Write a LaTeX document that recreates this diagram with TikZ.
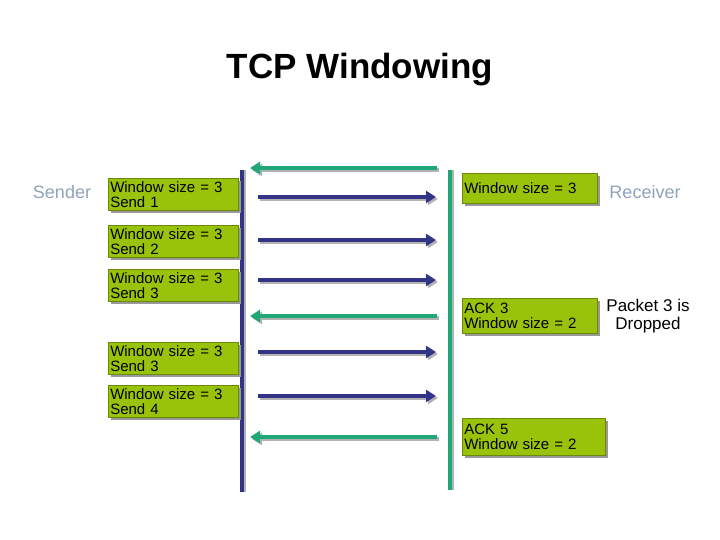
\documentclass[tikz,border=0pt]{standalone}
\usepackage{fontspec}
\setmainfont{Liberation Sans}
\usetikzlibrary{arrows.meta}
\definecolor{boxg}{HTML}{99C20A}
\definecolor{lblue}{HTML}{333388}
\definecolor{lgreen}{HTML}{1FA876}
\definecolor{lbl}{HTML}{8FA3BA}
\tikzset{
 wbox/.style={fill=boxg, draw=boxg!70!black, line width=0.5pt, inner xsep=2pt, inner ysep=1pt, anchor=north west, align=left, font=\fontsize{15}{15}\selectfont, text=black},
 barr/.style={draw=lblue, line width=4pt, -{Triangle[length=10pt,width=12pt]}},
 garr/.style={draw=lgreen, line width=4pt, -{Triangle[length=10pt,width=12pt]}},
 sarr/.style={draw=gray!60, line width=4pt, -{Triangle[length=10pt,width=12pt]}},
}
\begin{document}
\begin{tikzpicture}[x=1pt,y=-1pt]
\useasboundingbox (0,0) rectangle (720,540);
\node (title) at (360,70) {\fontsize{35}{35}\selectfont\bfseries TCP Windowing};
\node[text=lbl, font=\fontsize{18}{18}\selectfont] (snd) at (62,192) {Sender};
\node[text=lbl, font=\fontsize{18}{18}\selectfont] (rcv) at (645,192) {Receiver};
\node[font=\fontsize{17}{18}\selectfont, align=center] (drop) at (648,316) {Packet 3 is\\Dropped};
% vertical lines
\coordinate (bt) at (242,170); \coordinate (bb) at (242,492);
\coordinate (gt) at (450,170); \coordinate (gb) at (450,490);
\draw[gray!60, line width=4pt] ([xshift=2]bt) -- ([xshift=2]bb);
\draw[lblue, line width=4pt] (bt) -- (bb);
\draw[gray!60, line width=4pt] ([xshift=2]gt) -- ([xshift=2]gb);
\draw[lgreen, line width=4pt] (gt) -- (gb);
% left boxes
\foreach \n/\y/\t in {b1/178/{Window size = 3\\Send 1}, b2/225/{Window size = 3\\Send 2}, b3/269/{Window size = 3\\Send 3}, b4/342/{Window size = 3\\Send 3}, b5/385/{Window size = 3\\Send 4}}{
 \fill[gray!80] (111,\y+3) rectangle (241,\y+35);
 \node[wbox, minimum width=130pt, minimum height=32pt, text width=126pt] (\n) at (108,\y) {\t};
}
% right boxes
\fill[gray!80] (465,176) rectangle (600,206);
\node[wbox, minimum width=135pt, minimum height=30pt, text width=131pt] (r1) at (462,173) {Window size = 3};
\fill[gray!80] (465,301) rectangle (600,336);
\node[wbox, minimum width=135pt, minimum height=35pt, text width=131pt] (r2) at (462,298) {ACK 3\\Window size = 2};
\fill[gray!80] (465,421) rectangle (608,458);
\node[wbox, minimum width=143pt, minimum height=37pt, text width=139pt] (r3) at (462,418) {ACK 5\\Window size = 2};
% arrows
\foreach \y/\n in {197/s1,240/s2,280/s3,352/s4,396/s5}{
 \coordinate (\n a) at (258,\y); \coordinate (\n b) at (436,\y);
 \draw[sarr] ([shift={(2,2)}]\n a) -- ([shift={(2,2)}]\n b);
 \draw[barr] (\n a) -- (\n b);
}
\foreach \y/\n in {168/g1,316/g2,437/g3}{
 \coordinate (\n a) at (437,\y); \coordinate (\n b) at (250,\y);
 \draw[sarr] ([shift={(2,2)}]\n a) -- ([shift={(2,2)}]\n b);
 \draw[garr] (\n a) -- (\n b);
}
\end{tikzpicture}
\end{document}
